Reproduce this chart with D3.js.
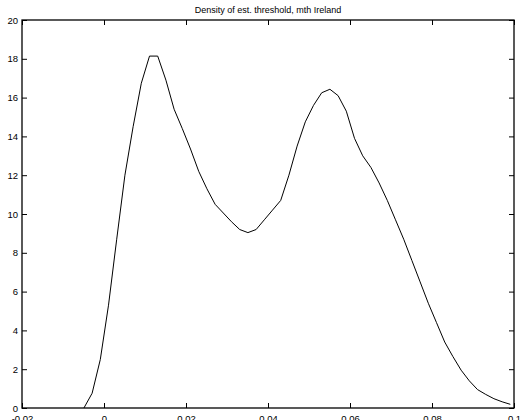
<!DOCTYPE html>
<html>
<head>
<meta charset="utf-8">
<script src="https://cdn.jsdelivr.net/npm/d3@7"></script>
<style>
  body { margin: 0; background: #fff; }
  text { font-family: "Liberation Sans", Arial, sans-serif; fill: #000; }
</style>
</head>
<body>
<svg id="chart" width="520" height="420"></svg>
<script>
// data
const title = "Density of est. threshold, mth Ireland";
const xTicks = [-0.02, 0, 0.02, 0.04, 0.06, 0.08, 0.1];
const yTicks = [0, 2, 4, 6, 8, 10, 12, 14, 16, 18, 20];
const xs = [
  -0.0049, -0.0029, -0.0009, 0.0011, 0.0031, 0.0051, 0.0071, 0.0091, 0.0111, 0.0131,
  0.0151, 0.0171, 0.0191, 0.0211, 0.0231, 0.0251, 0.0271, 0.0291, 0.0311, 0.0331,
  0.0351, 0.0371, 0.0391, 0.0411, 0.0431, 0.0451, 0.0471, 0.0491, 0.0511, 0.0531,
  0.0551, 0.0571, 0.0591, 0.0611, 0.0631, 0.0651, 0.0671, 0.0691, 0.0711, 0.0731,
  0.0751, 0.0771, 0.0791, 0.0811, 0.0831, 0.0851, 0.0871, 0.0891, 0.0911, 0.0931,
  0.0951, 0.0971, 0.0991
];
const density = [
  0, 0.76, 2.5, 5.3, 8.7, 12.0, 14.5, 16.74, 18.14, 18.14,
  16.9, 15.4, 14.4, 13.35, 12.2, 11.3, 10.5, 10.05, 9.6, 9.2,
  9.04, 9.2, 9.7, 10.2, 10.7, 12.0, 13.5, 14.75, 15.6, 16.25,
  16.43, 16.1, 15.3, 13.9, 13.0, 12.4, 11.6, 10.7, 9.7, 8.7,
  7.6, 6.5, 5.4, 4.4, 3.4, 2.65, 1.95, 1.4, 0.95, 0.7,
  0.48, 0.32, 0.19
];

const svg = d3.select("#chart");
const m = {left: 22, top: 20, right: 6, bottom: 12};
const W = 520 - m.left - m.right, H = 420 - m.top - m.bottom;

const x = d3.scaleLinear().domain([-0.02, 0.1]).range([0, W]);
const y = d3.scaleLinear().domain([0, 20]).range([H, 0]);

const g = svg.append("g").attr("transform", `translate(${m.left},${m.top})`);

//tick marks inside on all four sides, labels only bottom and left
const fmt = d => d === 0 ? "0" : String(d);
const ax = [
  {a: d3.axisBottom(x).tickValues(xTicks).tickFormat(fmt), t: `translate(0,${H})`, pad: 7},
  {a: d3.axisLeft(y).tickValues(yTicks).tickFormat(fmt), t: null, pad: 4},
  {a: d3.axisTop(x).tickValues(xTicks).tickFormat(""), t: null, pad: 4},
  {a: d3.axisRight(y).tickValues(yTicks).tickFormat(""), t: `translate(${W},0)`, pad: 4}
];
ax.forEach(o => {
  const s = g.append("g").attr("transform", o.t).call(o.a.tickSizeInner(-5).tickSizeOuter(0).tickPadding(o.pad));
  s.select(".domain").remove();
  s.selectAll("line").attr("stroke", "#000");
  s.selectAll("text").style("font-size", "9.5px");
});

// frame
g.append("rect").attr("width", W).attr("height", H)
  .attr("fill", "none").attr("stroke", "#000").attr("stroke-width", 1.3);

const line = d3.line().x((d, i) => x(xs[i])).y(d => y(d));
g.append("path").datum(density).attr("d", line)
  .attr("fill", "none").attr("stroke", "#000").attr("stroke-width", 1);

svg.append("text").attr("x", m.left + W / 2).attr("y", 13)
  .attr("text-anchor", "middle").style("font-size", "9px").text(title);
</script>
</body>
</html>
